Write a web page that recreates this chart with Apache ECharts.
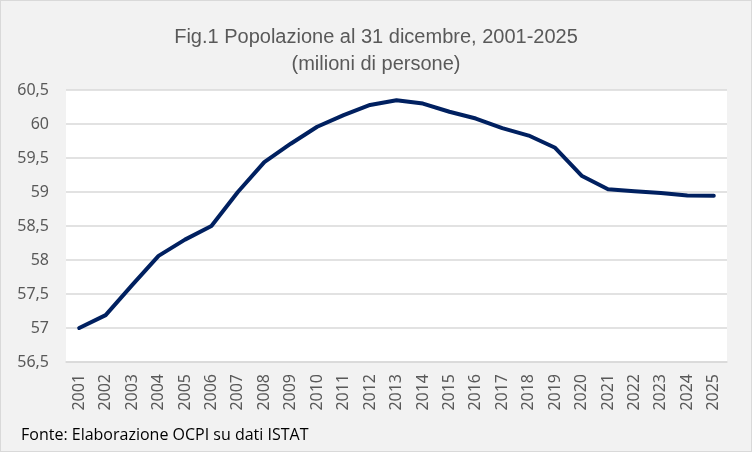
<!DOCTYPE html>
<html>
<head>
<meta charset="utf-8">
<script src="https://cdn.jsdelivr.net/npm/echarts@6/dist/echarts.min.js"></script>
<style>
  html, body { margin: 0; padding: 0; background: #f2f2f2; }
  #chart { width: 752px; height: 452px; box-sizing: border-box; border: 1px solid #d9d9d9; }
</style>
</head>
<body>
<div id="chart"></div>
<script>
var years = ["2001","2002","2003","2004","2005","2006","2007","2008","2009","2010",
             "2011","2012","2013","2014","2015","2016","2017","2018","2019","2020",
             "2021","2022","2023","2024","2025"];
// popolazione al 31 dicembre, milioni
var popolazione = [57.00, 57.19, 57.63, 58.06, 58.30, 58.50, 59.00, 59.44, 59.71, 59.96,
                   60.13, 60.28, 60.35, 60.30, 60.18, 60.08, 59.94, 59.83, 59.65, 59.24,
                   59.04, 59.01, 58.985, 58.95, 58.945];
var titleText = "Fig.1 Popolazione al 31 dicembre, 2001-2025\n(milioni di persone)";
var sourceText = "Fonte: Elaborazione OCPI su dati ISTAT";

var myChart = echarts.init(document.getElementById('chart'));
var option = {
    backgroundColor: '#f2f2f2',
    animation: false,
    title: {
        text: titleText,
        left: 'center',
        top: 18,
        textStyle: {
            fontFamily: '"Liberation Sans Narrow", "Liberation Sans", sans-serif',
            fontSize: 20,
            fontWeight: 'normal',
            color: '#595959',
            lineHeight: 27
        }
    },
    graphic: [
        {
            type: 'text',
            left: 20,
            top: 426,
            style: {
                text: sourceText,
                fontFamily: '"Open Sans", sans-serif',
                fontSize: 16,
                fill: '#000'
            }
        }
    ],
    grid: {
        left: 65,
        right: 24,
        top: 89,
        bottom: 89,
        show: true,
        backgroundColor: '#fff',
        borderWidth: 0
    },
    xAxis: {
        type: 'category',
        data: years,
        boundaryGap: true,
        axisLine: { show: true, lineStyle: { color: '#d9d9d9', width: 1.5 } },
        axisTick: { show: false },
        axisLabel: {
            rotate: 90,
            interval: 0,
            margin: 12,
            fontFamily: '"Noto Sans", sans-serif',
            fontSize: 16,
            color: '#595959'
        }
    },
    yAxis: {
        type: 'value',
        min: 56.5,
        max: 60.5,
        interval: 0.5,
        axisLine: { show: false },
        axisTick: { show: false },
        splitLine: { lineStyle: { color: '#d9d9d9', width: 1.5 } },
        axisLabel: {
            margin: 17,
            fontFamily: '"Noto Sans", sans-serif',
            fontSize: 16,
            color: '#595959',
            formatter: function (v) { return String(v).replace('.', ','); }
        }
    },
    series: [
        {
            type: 'line',
            data: popolazione,
            symbol: 'none',
            lineStyle: { color: '#002060', width: 4, cap: 'round', join: 'round' }
        }
    ]
};
myChart.setOption(option);
</script>
</body>
</html>
